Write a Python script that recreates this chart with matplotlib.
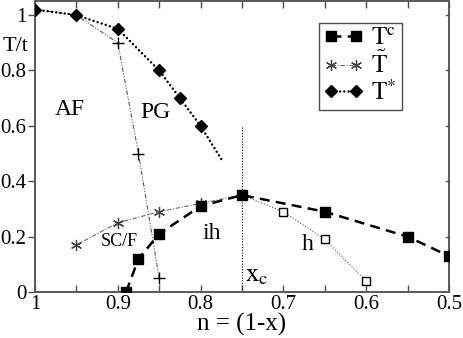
import matplotlib.pyplot as plt
import numpy as np

plt.rcParams['font.family'] = ['Liberation Serif', 'DejaVu Serif']
plt.rcParams['mathtext.fontset'] = 'stix'

# T_c (filled squares, dashed)
tc_n = [0.89, 0.875, 0.85, 0.80, 0.75, 0.65, 0.55, 0.50]
tc_T = [0.0, 0.12, 0.21, 0.31, 0.35, 0.29, 0.20, 0.13]

# T tilde, underdoped branch (stars)
tt_n = [0.95, 0.90, 0.85, 0.80, 0.75]
tt_T = [0.17, 0.25, 0.29, 0.32, 0.35]

# T tilde, overdoped branch (open squares)
th_n = [0.75, 0.70, 0.65, 0.60]
th_T = [0.35, 0.29, 0.19, 0.04]

# T* (diamonds, dotted)
ts_n = [1.0, 0.95, 0.90, 0.85, 0.825, 0.80, 0.775]
ts_T = [1.02, 1.0, 0.95, 0.80, 0.70, 0.60, 0.48]

# AF boundary (plus markers)
af_n = [1.0, 0.95, 0.90, 0.875, 0.85]
af_T = [1.02, 1.0, 0.90, 0.50, 0.05]

x_c = 0.75

fig = plt.figure(figsize=(4.63, 3.38), dpi=100)
ax = fig.add_axes([0.0756, 0.136, 0.894, 0.862])

ax.plot(af_n, af_T, color='0.35', lw=0.8, dashes=[4, 1.5, 1, 1.5, 1, 1.5],
        marker='+', ms=9, mew=1.0, mec='black', markevery=[2, 3, 4], zorder=2)
ax.plot(th_n, th_T, color='0.35', lw=0.8, ls=':', marker='s', ms=6,
        mfc='white', mec='black', mew=1.0, markevery=[1, 2, 3], zorder=2)
l2, = ax.plot(tt_n, tt_T, color='0.4', lw=0.8, dashes=[4, 1.5, 1, 1.5],
              marker=(6, 2, 0), ms=8, mec='0.25', mew=0.9, zorder=3)
l1, = ax.plot(tc_n, tc_T, color='black', lw=1.8, dashes=[4, 2.5],
              marker='s', ms=7, mfc='black', zorder=4)
l3, = ax.plot(ts_n, ts_T, color='black', lw=1.8, dashes=[0.01, 1.7],
              dash_capstyle='round', marker='D', ms=6.5, mfc='black',
              markevery=[0, 1, 2, 3, 4, 5], zorder=4)

ax.plot([x_c, x_c], [0, 0.6], color='black', lw=0.8, ls=(0, (1, 1.5)))

ax.set_xlim(1.0, 0.5)
ax.set_ylim(0, 1.052)
ax.set_xticks([1.0, 0.9, 0.8, 0.7, 0.6, 0.5])
ax.set_xticklabels(['1', '0.9', '0.8', '0.7', '0.6', '0.5'])
ax.set_xticks(np.arange(0.55, 1.0, 0.1), minor=True)
ax.set_yticks([0, 0.2, 0.4, 0.6, 0.8, 1.0])
ax.set_yticklabels(['0', '0.2', '0.4', '0.6', '0.8', '1'])
ax.tick_params(axis='both', which='both', labelsize=15, length=5, width=1.0,
               color='0.3')
ax.tick_params(axis='x', which='both', direction='in', top=True, pad=2)
ax.tick_params(axis='y', which='both', direction='out', right=False, pad=1)
for y in [0.2, 0.4, 0.6, 0.8, 1.0]:
    ax.plot([0.5035, 0.5], [y, y], color='0.3', lw=1.0, clip_on=False)
for s in ax.spines.values():
    s.set_color('0.35')
    s.set_linewidth(1.4)

ax.set_xlabel('n = (1-x)', fontsize=18, labelpad=-1)
fig.text(0.005, 0.85, 'T/t', fontsize=16)

ax.text(0.958, 0.64, 'AF', fontsize=17, ha='center')
ax.text(0.855, 0.63, 'PG', fontsize=17, ha='center')
ax.text(0.898, 0.165, 'SC/F', fontsize=13, ha='center')
ax.text(0.787, 0.19, 'ih', fontsize=17, ha='center')
ax.text(0.671, 0.15, 'h', fontsize=17, ha='center')
ax.text(0.732, 0.04, r'$\mathrm{x}_\mathrm{c}$', fontsize=19, ha='center')

leg = ax.legend([l1, l2, l3],
                [r'$\mathrm{T}^{\mathrm{c}}$', r'$\tilde{\mathrm{T}}$',
                 r'$\mathrm{T}^{*}$'],
                loc='upper right', bbox_to_anchor=(0.886, 0.925),
                fontsize=18, fancybox=False, framealpha=1, handlelength=1.6,
                numpoints=2, borderpad=0.2, labelspacing=0.05,
                handletextpad=0.3, borderaxespad=0)
leg.get_frame().set_edgecolor('0.3')
leg.get_frame().set_linewidth(1.0)

fig.savefig('out.png', dpi=100)
